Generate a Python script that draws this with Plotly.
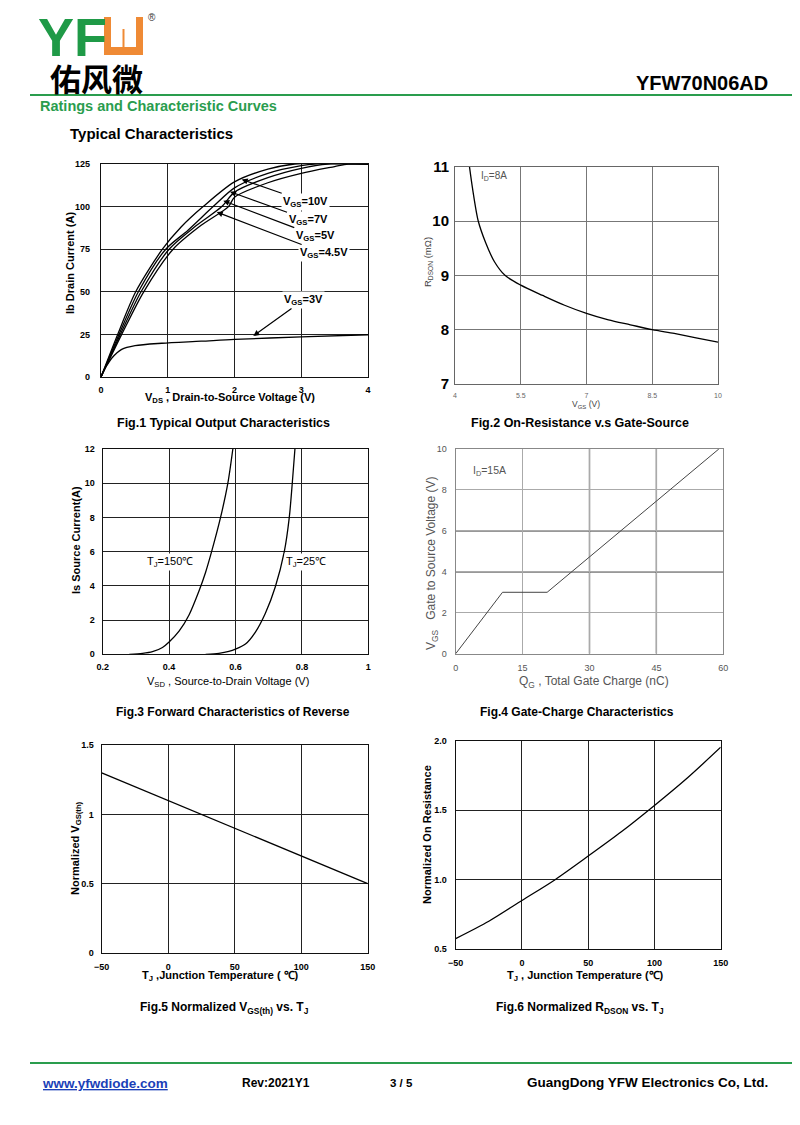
import plotly.graph_objects as go

# ---------------- data ----------------
# Fig.1 output characteristics (VDS [V] -> ID [A])
vds_10v = [0, 0.25, 0.52, 0.92, 1.2, 1.53, 2.0, 2.5, 2.9, 4.0]
id_10v = [0, 25, 50, 75, 88, 100, 114.5, 122, 125, 125]
vds_7v = [0, 0.27, 0.56, 0.97, 1.3, 1.68, 2.0, 2.5, 3.0, 3.2, 4.0]
id_7v = [0, 25, 50, 75, 86, 100, 111, 119.5, 124, 125, 125]
vds_5v = [0, 0.29, 0.6, 1.02, 1.4, 1.81, 2.0, 2.5, 3.0, 3.4, 4.0]
id_5v = [0, 25, 50, 75, 88, 100, 108.5, 117, 122.5, 125, 125]
vds_45v = [0, 0.31, 0.64, 1.08, 1.5, 1.91, 2.0, 2.5, 3.0, 3.5, 3.7, 4.0]
id_45v = [0, 25, 50, 75, 89, 100, 105.5, 114, 119.5, 123.5, 125, 125]
vds_3v = [0, 0.05, 0.1, 0.16, 0.31, 0.51, 0.91, 1.5, 2.0, 3.0, 4.0]
id_3v = [0, 4.5, 7.5, 11, 16.2, 18.4, 19.8, 21, 22.1, 23.5, 24.8]

# Fig.2 on-resistance vs gate-source voltage
vgs_r = [4.33, 4.4, 4.53, 4.7, 4.9, 5.14, 5.5, 6.0, 6.5, 7.0, 7.5, 8.0, 8.5, 9.0, 9.5, 10.0]
rdson = [11.0, 10.6, 10.0, 9.6, 9.25, 9.0, 8.82, 8.63, 8.45, 8.30, 8.18, 8.09, 8.0, 7.93, 7.85, 7.77]

# Fig.3 forward characteristics of reverse diode
vsd_150 = [0.28, 0.32, 0.35, 0.38, 0.40, 0.43, 0.46, 0.49, 0.51, 0.528, 0.555, 0.577, 0.592]
is_150 = [0, 0.05, 0.15, 0.4, 0.72, 1.35, 2.3, 3.7, 4.8, 6.0, 8.0, 10.0, 12.0]
vsd_25 = [0.51, 0.55, 0.58, 0.60, 0.63, 0.66, 0.69, 0.72, 0.747, 0.762, 0.771, 0.779]
is_25 = [0, 0.06, 0.17, 0.3, 0.6, 1.3, 2.4, 3.95, 6.0, 8.0, 10.0, 12.0]

# Fig.4 gate charge
qg = [0, 10.5, 20.5, 59]
vgs_q = [0, 3, 3, 10]

# Fig.5 normalized VGS(th) vs TJ
tj5 = [-50, 0, 50, 100, 150]
vth_norm = [1.3, 1.1, 0.9, 0.7, 0.5]

# Fig.6 normalized RDSON vs TJ
tj6 = [-50, -25, 0, 25, 50, 75, 100, 125, 150]
ron_norm = [0.575, 0.70, 0.85, 1.0, 1.17, 1.345, 1.535, 1.735, 1.955]

# ---------------- helpers ----------------
W, H = 800, 1125
OFF = 8  # page body margin offset
FONT = "Liberation Sans, Arial, sans-serif"
GREEN = "#2a9d4e"


def px(x):
    return (x - OFF) / W


def py(y):
    return 1 - (y - OFF) / H


fig = go.Figure()


def add(x, y, ax, shape="spline", color="black", width=1.3):
    fig.add_trace(go.Scatter(
        x=x, y=y, mode="lines", xaxis="x" + ax, yaxis="y" + ax,
        line=dict(color=color, width=width, shape=shape, smoothing=0.8),
        showlegend=False, hoverinfo="skip"))


add(vds_10v, id_10v, "")
add(vds_7v, id_7v, "")
add(vds_5v, id_5v, "")
add(vds_45v, id_45v, "")
add(vds_3v, id_3v, "")
add(vgs_r, rdson, "2")
add(vsd_150, is_150, "3")
add(vsd_25, is_25, "3")
add(qg, vgs_q, "4", shape="linear", color="#444", width=1)
add(tj5, vth_norm, "5", shape="linear")
add(tj6, ron_norm, "6")


def axis(dom, rng, dtick, tfont, standoff, gridcolor="#222", linecolor="#111",
         gw=1.3, lw=1.3, fmt=None):
    d = dict(domain=dom, range=rng, dtick=dtick, tick0=rng[0], showgrid=True,
             gridcolor=gridcolor, gridwidth=gw, zeroline=False, showline=True,
             linecolor=linecolor, linewidth=lw, mirror=True, ticks="",
             tickfont=tfont, ticklabelstandoff=standoff, fixedrange=True,
             automargin=False)
    if fmt:
        d["tickformat"] = fmt
    return d


bold9 = dict(family=FONT, size=9, color="black", weight="bold")
gray9 = dict(family=FONT, size=9, color="#555")

layout = dict(
    width=W, height=H,
    margin=dict(l=0, r=0, t=0, b=0, pad=0, autoexpand=False),
    paper_bgcolor="white", plot_bgcolor="white", showlegend=False,
    font=dict(family=FONT, color="black"),
)

# Fig1
layout["xaxis"] = axis([px(101), px(368)], [0, 4], 1, bold9, 4)
layout["yaxis"] = axis([py(377), py(164)], [0, 125], 25, bold9, 8)
layout["xaxis"]["anchor"] = "y"
layout["yaxis"]["anchor"] = "x"
# Fig2
layout["xaxis2"] = axis([px(455), px(718)], [4, 10], 1.5,
                        dict(family=FONT, size=7, color="#666"), 5,
                        gridcolor="#777", linecolor="#666", gw=1, lw=1)
layout["yaxis2"] = axis([py(384), py(166.7)], [7, 11], 1,
                        dict(family=FONT, size=15, color="black", weight="bold"), 2,
                        gridcolor="#777", linecolor="#666", gw=1, lw=1)
layout["xaxis2"]["anchor"] = "y2"
layout["yaxis2"]["anchor"] = "x2"
# Fig3
layout["xaxis3"] = axis([px(102.7), px(368.3)], [0.2, 1], 0.2, bold9, 4)
layout["yaxis3"] = axis([py(654.3), py(449)], [0, 12], 2, bold9, 5)
layout["xaxis3"]["anchor"] = "y3"
layout["yaxis3"]["anchor"] = "x3"
# Fig4
layout["xaxis4"] = axis([px(455.7), px(723.3)], [0, 60], 15, gray9, 5,
                        gridcolor="#aaa", linecolor="#888", gw=1, lw=1.2)
layout["yaxis4"] = axis([py(653.7), py(449)], [0, 10], 2, gray9, 6,
                        gridcolor="#aaa", linecolor="#888", gw=1, lw=1.2)
layout["xaxis4"]["anchor"] = "y4"
layout["yaxis4"]["anchor"] = "x4"
# Fig5
layout["xaxis5"] = axis([px(101.7), px(367.7)], [-50, 150], 50, bold9, 5)
layout["yaxis5"] = axis([py(952.7), py(745.3)], [0, 1.5], 0.5, bold9, 5)
layout["xaxis5"]["anchor"] = "y5"
layout["yaxis5"]["anchor"] = "x5"
# Fig6
layout["xaxis6"] = axis([px(455.7), px(720.7)], [-50, 150], 50, bold9, 5)
layout["yaxis6"] = axis([py(949), py(741)], [0.5, 2.0], 0.5, bold9, 6, fmt=".1f")
layout["xaxis6"]["anchor"] = "y6"
layout["yaxis6"]["anchor"] = "x6"

fig.update_layout(**layout)

ann = []


def txt(x, y, text, size=11, color="black", bold=False, xanchor="center",
        angle=0, bg=None, family=FONT):
    f = dict(family=family, size=size, color=color)
    if bold:
        f["weight"] = "bold"
    a = dict(x=px(x), y=py(y), xref="paper", yref="paper", text=text,
             showarrow=False, font=f, xanchor=xanchor, yanchor="middle",
             textangle=angle)
    if bg:
        a["bgcolor"] = bg
    ann.append(a)


# header
txt(770, 83, "YFW70N06AD", size=20, bold=True, xanchor="right")
txt(38, 106, "Ratings and Characteristic Curves", size=14.5, bold=True,
    color=GREEN, xanchor="left")
txt(68, 133, "Typical Characteristics", size=15, bold=True, xanchor="left")
txt(36, 37, "YF", size=54, bold=True, color="#1f9a47", xanchor="left")
txt(152, 18, "®", size=10, color="#333")
txt(96, 77, "佑风微", size=31, family="Noto Sans CJK SC", bold=True)

# footer
txt(40, 1083, "<u>www.yfwdiode.com</u>", size=13.5, bold=True,
    color="#1b3fb8", xanchor="left")
txt(240, 1083, "Rev:2021Y1", size=12, bold=True, xanchor="left")
txt(388, 1083, "3 / 5", size=11.5, bold=True, xanchor="left")
txt(770, 1082, "GuangDong YFW Electronics Co, Ltd.", size=13.5, bold=True,
    xanchor="right")

# captions
txt(223, 423, "Fig.1 Typical Output Characteristics", size=12.5, bold=True)
txt(580, 423, "Fig.2 On-Resistance v.s Gate-Source", size=12.5, bold=True)
txt(233, 712, "Fig.3 Forward Characteristics of Reverse", size=12, bold=True)
txt(577, 712, "Fig.4 Gate-Charge Characteristics", size=12, bold=True)
txt(224, 1008, "Fig.5 Normalized V<sub>GS(th)</sub> vs. T<sub>J</sub>", size=12, bold=True)
txt(580, 1008, "Fig.6 Normalized R<sub>DSON</sub> vs. T<sub>J</sub>", size=12, bold=True)

# axis titles
txt(70, 263, "Ib Drain Current (A)", size=11, bold=True, angle=-90)
txt(230, 398, "V<sub>DS</sub> , Drain-to-Source Voltage (V)", size=11, bold=True)
txt(428, 262, "R<sub>DSON</sub> (mΩ)", size=9.5, color="#444", angle=-90)
txt(586, 405, "V<sub>GS</sub> (V)", size=8.5, color="#444")
txt(76, 540, "Is Source Current(A)", size=11, bold=True, angle=-90)
txt(228, 682, "V<sub>SD</sub> , Source-to-Drain Voltage (V)", size=11)
txt(432, 563, "V<sub>GS</sub>   Gate to Source Voltage (V)", size=12,
    color="#555", angle=-90)
txt(594, 682, "Q<sub>G</sub> , Total Gate Charge (nC)", size=12, color="#555")
txt(76, 848, "Normalized V<sub>GS(th)</sub>", size=11, bold=True, angle=-90)
txt(220, 976, "T<sub>J</sub> ,Junction Temperature ( ℃)", size=11, bold=True)
txt(427, 835, "Normalized On Resistance", size=11, bold=True, angle=-90)
txt(585, 976, "T<sub>J</sub> , Junction Temperature (℃)", size=11, bold=True)

# in-plot labels
txt(479, 176, "I<sub>D</sub>=8A", size=10, color="#555", xanchor="left")
txt(471, 471, "I<sub>D</sub>=15A", size=10.5, color="#555", xanchor="left")
txt(170, 562, "T<sub>J</sub>=150℃", size=11, bg="white")
txt(306, 562, "T<sub>J</sub>=25℃", size=11, bg="white")

# arrows with labels on fig1
arrows = [
    (2.108, 115.9, 64, 22, "V<sub>GS</sub>=10V"),
    (1.933, 108.7, 78, 28, "V<sub>GS</sub>=7V"),
    (1.832, 103.5, 92, 35, "V<sub>GS</sub>=5V"),
    (1.734, 96.8, 107, 41, "V<sub>GS</sub>=4.5V"),
    (2.282, 24.06, 50, -36, "V<sub>GS</sub>=3V"),
]
for x, y, ax_, ay_, t in arrows:
    ann.append(dict(x=x, y=y, xref="x", yref="y", text=t, showarrow=True,
                    ax=ax_, ay=ay_, arrowhead=2, arrowsize=1, arrowwidth=1.2,
                    arrowcolor="black", bgcolor="white",
                    font=dict(family=FONT, size=11, color="black", weight="bold")))

fig.update_layout(annotations=ann)

shapes = []
# header/footer green rules
shapes.append(dict(type="line", xref="paper", yref="paper", x0=px(30), x1=px(795),
                   y0=py(95), y1=py(95), line=dict(color=GREEN, width=2)))
shapes.append(dict(type="line", xref="paper", yref="paper", x0=px(30), x1=px(795),
                   y0=py(1063), y1=py(1063), line=dict(color=GREEN, width=2)))
# logo orange mark
ORG = "#ef8a35"
shapes.append(dict(type="rect", xref="paper", yref="paper", x0=px(104), x1=px(143),
                   y0=py(55), y1=py(17), fillcolor=ORG, line=dict(width=0)))
shapes.append(dict(type="rect", xref="paper", yref="paper", x0=px(111), x1=px(136),
                   y0=py(47), y1=py(16), fillcolor="white", line=dict(width=0)))
shapes.append(dict(type="rect", xref="paper", yref="paper", x0=px(122.5), x1=px(124.5),
                   y0=py(47), y1=py(29), fillcolor=ORG, line=dict(width=0)))
# darker grid lines on fig4
for xv in [30, 45]:
    shapes.append(dict(type="line", xref="x4", yref="y4", x0=xv, x1=xv, y0=0, y1=10,
                       line=dict(color="#333", width=1.3), layer="below"))
for yv in [4, 6]:
    shapes.append(dict(type="line", xref="x4", yref="y4", x0=0, x1=60, y0=yv, y1=yv,
                       line=dict(color="#333", width=1.3), layer="below"))
fig.update_layout(shapes=shapes)

fig.write_html("out.html")
